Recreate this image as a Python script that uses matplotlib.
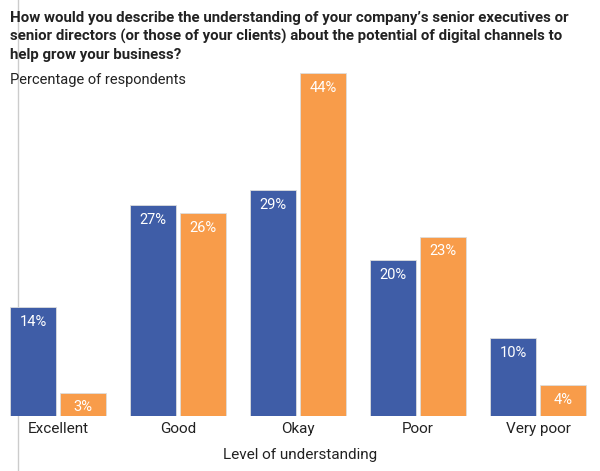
"""Bar chart: senior executives' understanding of digital channels."""

import matplotlib
matplotlib.use("Agg")
import matplotlib.pyplot as plt
from matplotlib.lines import Line2D
import numpy as np

plt.rcParams['font.family'] = ['Liberation Sans Narrow', 'Roboto', 'DejaVu Sans']

categories = ['Excellent', 'Good', 'Okay', 'Poor', 'Very poor']
series_a = [14, 27, 29, 20, 10]
series_b = [3, 26, 44, 23, 4]

title = ("How would you describe the understanding of your company\u2019s senior executives or\n"
         "senior directors (or those of your clients) about the potential of digital channels to\n"
         "help grow your business?")
subtitle = "Percentage of respondents"
xlabel = "Level of understanding"

blue = '#3F5DA7'
orange = '#F89C4A'

W, H = 600, 471
fig = plt.figure(figsize=(W / 100, H / 100), dpi=100)

# thin gray rule down the left side, behind everything
fig.add_artist(Line2D([18 / W, 18 / W], [0, 1], color='#cccccc', lw=1, zorder=0))

base_px = 416
px_per_pct = 7.8
ax = fig.add_axes([0, (H - base_px) / H, 1, base_px / H])
ax.set_facecolor('none')
ax.set_xlim(-58 / 120, (W - 58) / 120)
ax.set_ylim(0, base_px / px_per_pct)

x = np.arange(len(categories))
width = 0.385
off = 0.208
bars_a = ax.bar(x - off, series_a, width, color=blue, edgecolor='#dddddd', linewidth=0.6, zorder=2)
bars_b = ax.bar(x + off, series_b, width, color=orange, edgecolor='#dddddd', linewidth=0.6, zorder=2)

for bars, vals in [(bars_a, series_a), (bars_b, series_b)]:
    for b, v in zip(bars, vals):
        ax.text(b.get_x() + b.get_width() / 2, v - 1.0, f'{v}%', ha='center', va='top',
                color='white', fontsize=10.5, zorder=3)

for s in ax.spines.values():
    s.set_visible(False)
ax.set_yticks([])
ax.set_xticks(x)
ax.set_xticklabels(categories, fontsize=11, color='#222222')
ax.tick_params(axis='x', length=0, pad=4)
ax.set_xlabel(xlabel, fontsize=11, color='#222222', labelpad=9)

fig.text(10 / W, 1 - 11 / H, title, ha='left', va='top', fontsize=10.8, fontweight='bold',
         color='#222222', linespacing=1.35)
fig.text(10 / W, 1 - 73 / H, subtitle, ha='left', va='top', fontsize=10.5, color='#222222')

fig.savefig('out.png', dpi=100)
